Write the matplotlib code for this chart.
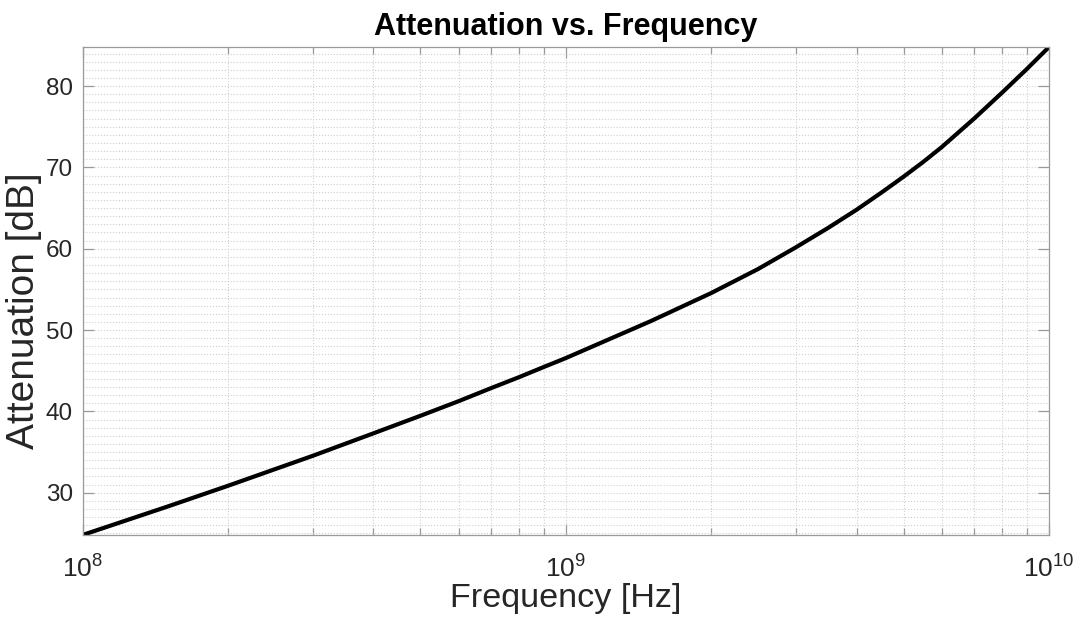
import numpy as np
import matplotlib
matplotlib.use("Agg")
import matplotlib.pyplot as plt
from matplotlib.ticker import LogLocator, MultipleLocator, NullFormatter

plt.rcParams['font.family'] = ['Liberation Sans', 'DejaVu Sans']
plt.rcParams['mathtext.fontset'] = 'custom'
plt.rcParams['mathtext.rm'] = 'Liberation Sans'
plt.rcParams['mathtext.default'] = 'regular'

# Values (at the log grid lines)
freq_hz = [1e8, 1.5e8, 2e8, 3e8, 4e8, 5e8, 6e8, 7e8, 8e8, 9e8,
           1e9, 1.5e9, 2e9, 2.5e9, 3e9, 3.5e9, 4e9, 4.5e9, 5e9, 5.5e9,
           6e9, 7e9, 8e9, 9e9, 1e10]
atten_db = [24.8, 28.3, 30.85, 34.55, 37.3, 39.45, 41.25, 42.85, 44.2, 45.45,
            46.55, 51.1, 54.55, 57.5, 60.2, 62.6, 64.8, 66.9, 68.85, 70.7,
            72.5, 76.0, 79.2, 82.1, 84.8]

ax_col = '#9a9a9a'
txt_col = '#262626'
grid_col = '#cfcfcf'

fig = plt.figure(figsize=(10.79, 6.26), dpi=100)
ax = fig.add_axes([82.5 / 1079, (626 - 535) / 626, (1049 - 82.5) / 1079, (535 - 47) / 626])

ax.semilogx(freq_hz, atten_db, color='black', lw=3, solid_joinstyle='round')

ax.set_xlim(1e8, 1e10)
ax.set_ylim(min(atten_db), max(atten_db))

ax.xaxis.set_major_locator(LogLocator(base=10, numticks=10))
ax.xaxis.set_minor_locator(LogLocator(base=10, subs=np.arange(2, 10), numticks=20))
ax.xaxis.set_minor_formatter(NullFormatter())
ax.yaxis.set_major_locator(MultipleLocator(10))
ax.yaxis.set_minor_locator(MultipleLocator(1))

ax.grid(which='major', color=grid_col, linestyle=':', linewidth=0.8)
ax.grid(which='minor', color=grid_col, linestyle=':', linewidth=0.8)

for s in ax.spines.values():
    s.set_color(ax_col)
    s.set_linewidth(0.9)

ax.tick_params(which='both', direction='in', top=True, right=True, color=ax_col,
               labelcolor=txt_col)
ax.tick_params(which='major', length=8, width=0.9)
ax.tick_params(which='minor', length=5, width=0.9)
ax.tick_params(axis='y', which='minor', length=0)
ax.tick_params(axis='x', pad=15, labelsize=19)
ax.tick_params(axis='y', pad=7, labelsize=17.5)

ax.set_title('Attenuation vs. Frequency', fontsize=22, fontweight='bold', color='black', pad=9)
ax.set_xlabel('Frequency [Hz]', fontsize=24.6, color=txt_col, labelpad=0)
ax.set_ylabel('Attenuation [dB]', fontsize=28, color=txt_col)
ax.yaxis.set_label_coords(-0.042, 0.46)

fig.savefig('out.png', dpi=100)
